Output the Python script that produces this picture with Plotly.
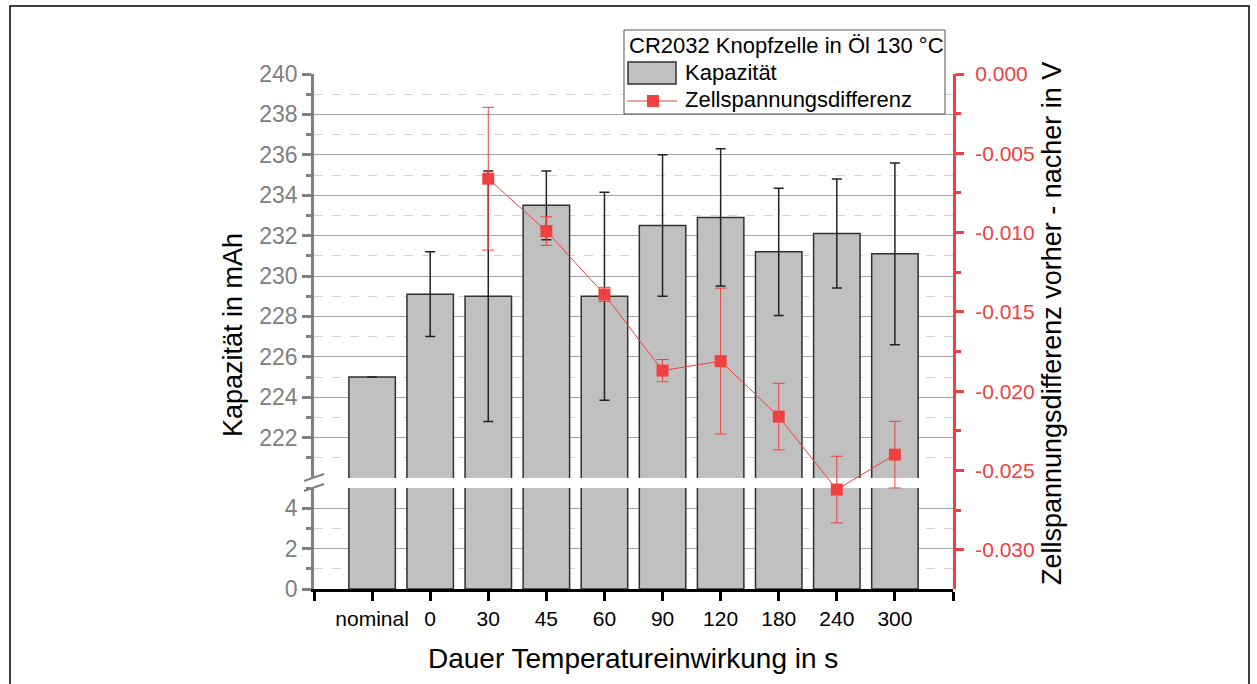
import plotly.graph_objects as go

# ---------------- data ----------------
categories = ["nominal", "0", "30", "45", "60", "90", "120", "180", "240", "300"]
capacity = [225.0, 229.1, 229.0, 233.5, 229.0, 232.5, 232.9, 231.2, 232.1, 231.1]
capacity_err = [None, 2.1, 6.2, 1.7, 5.15, 3.5, 3.4, 3.15, 2.7, 4.5]

voltage_cats = ["30", "45", "60", "90", "120", "180", "240", "300"]
voltage_diff = [-0.0066, -0.0099, -0.0139, -0.0187, -0.0181, -0.0216, -0.0262, -0.0240]
voltage_err = [0.0045, 0.0009, 0.00045, 0.0007, 0.0046, 0.0021, 0.0021, 0.0021]

left_upper_ticks = [222, 224, 226, 228, 230, 232, 234, 236, 238, 240]
left_lower_ticks = [0, 2, 4]
right_ticks = [0.0, -0.005, -0.010, -0.015, -0.020, -0.025, -0.030]

legend_title = "CR2032 Knopfzelle in Öl 130 °C"
name_bar = "Kapazität"
name_line = "Zellspannungsdifferenz"

# ---------------- layout constants ----------------
FONT = "Liberation Sans, Arial, sans-serif"
GRAY = "#808080"
RED = "#F04040"
W, H = 1257, 684
L, R, T, B = 314, 304, 74, 95
PW, PH = W - L - R, H - T - B

def px_x(x):
    return (x - L) / PW

def px_y(y):
    return (H - B - y) / PH

x_pos = list(range(len(categories)))
v_pos = [categories.index(c) for c in voltage_cats]

fig = go.Figure()

bar_style = dict(marker=dict(color="#c0c0c0", line=dict(color="#303030", width=1.5)), width=0.8)

# lower part of broken axis
fig.add_trace(go.Bar(x=x_pos, y=capacity, xaxis="x", yaxis="y", showlegend=False, **bar_style))
# upper part of broken axis
fig.add_trace(go.Bar(
    x=x_pos, y=capacity, xaxis="x", yaxis="y2", name=name_bar, showlegend=False,
    error_y=dict(type="data", array=capacity_err, color="#222222", thickness=1.5, width=5),
    **bar_style))

# voltage difference
fig.add_trace(go.Scatter(
    x=v_pos, y=voltage_diff, xaxis="x2", yaxis="y3", mode="lines+markers",
    name=name_line, showlegend=False,
    line=dict(color=RED, width=1),
    marker=dict(symbol="square", size=12, color=RED),
    error_y=dict(type="data", array=voltage_err, color=RED, thickness=1, width=6),
))

lower_top = px_y(488)
upper_bottom = px_y(478)

grid_common = dict(
    showgrid=True, gridcolor="#a6a6a6", gridwidth=1,
    showline=True, linecolor=GRAY, linewidth=2.5,
    ticks="outside", ticklen=9, tickwidth=2.5, tickcolor=GRAY,
    tickfont=dict(family=FONT, size=23, color=GRAY),
    zeroline=False,
)

ann = [
    dict(text="Kapazität in mAh", xref="paper", yref="paper", x=px_x(233), y=px_y(335),
         xanchor="center", yanchor="middle",
         textangle=-90, showarrow=False, font=dict(family=FONT, size=27, color="black")),
    dict(text="Zellspannungsdifferenz vorher - nacher in V", xref="paper", yref="paper",
         x=px_x(1052), y=px_y(324), xanchor="center", yanchor="middle",
         textangle=-90, showarrow=False, font=dict(family=FONT, size=27, color="black")),
    dict(text="Dauer Temperatureinwirkung in s", xref="paper", yref="paper",
         x=px_x(633), y=px_y(658), xanchor="center", yanchor="middle", showarrow=False,
         font=dict(family=FONT, size=28, color="black")),
    # manual legend texts
    dict(text=legend_title, xref="paper", yref="paper", x=px_x(627), y=px_y(46),
         xanchor="left", yanchor="middle", showarrow=False,
         font=dict(family=FONT, size=22, color="black")),
    dict(text=name_bar, xref="paper", yref="paper", x=px_x(683), y=px_y(73),
         xanchor="left", yanchor="middle", showarrow=False,
         font=dict(family=FONT, size=22, color="black")),
    dict(text=name_line, xref="paper", yref="paper", x=px_x(683), y=px_y(100),
         xanchor="left", yanchor="middle", showarrow=False,
         font=dict(family=FONT, size=22, color="black")),
]

shapes = [
    # axis break marks
    dict(type="line", xref="paper", yref="paper", x0=px_x(304), y0=px_y(481), x1=px_x(324), y1=px_y(474),
         line=dict(color=GRAY, width=2)),
    dict(type="line", xref="paper", yref="paper", x0=px_x(304), y0=px_y(491), x1=px_x(324), y1=px_y(484),
         line=dict(color=GRAY, width=2)),
    # outer frame
    dict(type="rect", xref="paper", yref="paper", x0=px_x(10), y0=px_y(700), x1=px_x(1249), y1=px_y(6),
         line=dict(color="black", width=1.5), fillcolor="rgba(0,0,0,0)"),
    # manual legend box
    dict(type="rect", xref="paper", yref="paper", x0=px_x(624), y0=px_y(114), x1=px_x(945), y1=px_y(30),
         line=dict(color="#555555", width=1), fillcolor="white", layer="above"),
    dict(type="rect", xref="paper", yref="paper", x0=px_x(628), y0=px_y(84), x1=px_x(676), y1=px_y(62),
         line=dict(color="#303030", width=1.5), fillcolor="#c0c0c0", layer="above"),
    dict(type="line", xref="paper", yref="paper", x0=px_x(627), y0=px_y(101), x1=px_x(677), y1=px_y(101),
         line=dict(color=RED, width=1), layer="above"),
    dict(type="rect", xref="paper", yref="paper", x0=px_x(647), y0=px_y(107), x1=px_x(659), y1=px_y(95),
         line=dict(color=RED, width=0), fillcolor=RED, layer="above"),
]

fig.update_layout(
    width=W, height=H, autosize=False,
    margin=dict(l=L, r=R, t=T, b=B, autoexpand=False),
    paper_bgcolor="white", plot_bgcolor="rgba(0,0,0,0)",
    font=dict(family=FONT, color="black"),
    barmode="overlay", showlegend=False,
    xaxis=dict(
        domain=[0, 1], anchor="y", range=[-1, 10],
        tickmode="array", tickvals=[-1] + x_pos + [10],
        ticktext=[""] + categories + [""],
        showline=True, linecolor="black", linewidth=2.5,
        ticks="outside", ticklen=9, tickwidth=2.5, tickcolor="black",
        tickfont=dict(family=FONT, size=21, color="black"),
        showgrid=False, zeroline=False,
    ),
    yaxis=dict(
        domain=[0, lower_top], anchor="x", range=[0, 5],
        tickmode="array", tickvals=left_lower_ticks,
        minor=dict(tick0=1, dtick=2, ticks="outside", ticklen=5, tickwidth=2.5, tickcolor=GRAY,
                   showgrid=True, gridcolor="#d4d4d4", griddash="dash", gridwidth=1),
        **grid_common,
    ),
    yaxis2=dict(
        domain=[upper_bottom, 1], anchor="x", range=[220, 240],
        tickmode="array", tickvals=left_upper_ticks,
        minor=dict(tick0=221, dtick=2, ticks="outside", ticklen=5, tickwidth=2.5, tickcolor=GRAY,
                   showgrid=True, gridcolor="#d4d4d4", griddash="dash", gridwidth=1),
        **grid_common,
    ),
    xaxis2=dict(domain=[0, 1], anchor="y3", range=[-1, 10], visible=False),
    yaxis3=dict(
        domain=[0, 1], anchor="x2", side="right", range=[-0.03247, 0],
        tickmode="array", tickvals=right_ticks, ticktext=[f"{v:.3f}" for v in right_ticks],
        showline=True, linecolor=RED, linewidth=3,
        ticks="outside", ticklen=8, tickwidth=2.5, tickcolor=RED,
        ticklabelstandoff=7,
        minor=dict(tick0=-0.0025, dtick=0.005, ticks="outside", ticklen=5, tickwidth=2.5,
                   tickcolor=RED, showgrid=False),
        tickfont=dict(family=FONT, size=21, color=RED),
        showgrid=False, zeroline=False,
    ),
    annotations=ann,
    shapes=shapes,
)

fig.write_html("out.html")
